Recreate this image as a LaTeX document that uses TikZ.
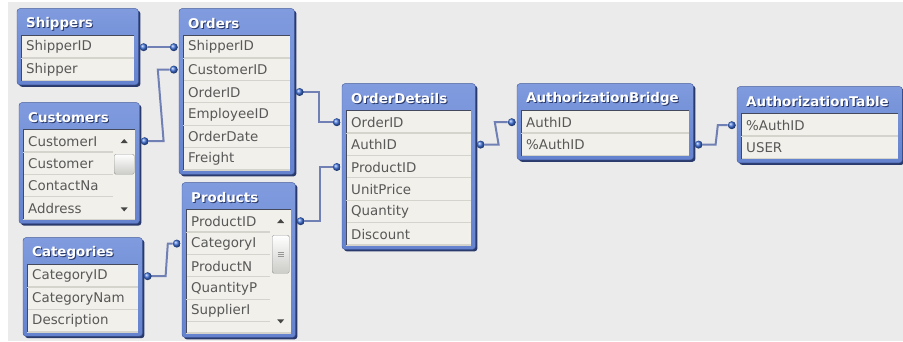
\documentclass[tikz,border=0pt]{standalone}
\usepackage{fontspec}
\setmainfont{DejaVu Sans}
\usepackage{tikz}
\usetikzlibrary{shapes,arrows,positioning,fit,backgrounds,shadows}
\definecolor{canvas}{RGB}{235,235,235}
\definecolor{frameblue}{RGB}{100,130,206}
\definecolor{framehi}{RGB}{128,155,222}
\definecolor{frameline}{RGB}{66,90,156}
\definecolor{frameshadow}{RGB}{42,58,108}
\definecolor{rowfill}{RGB}{241,240,234}
\definecolor{rowline}{RGB}{212,211,204}
\definecolor{panelline}{RGB}{68,74,92}
\definecolor{fieldtext}{RGB}{88,88,88}
\definecolor{linkblue}{RGB}{112,128,180}
\definecolor{dotblue}{RGB}{62,112,218}
\definecolor{thumbgray}{RGB}{204,204,200}
\definecolor{thumbline}{RGB}{150,150,150}
\definecolor{arrowgray}{RGB}{70,70,70}

% white title with a dark drop behind it
\newcommand{\embossed}[1]{\rlap{\kern1pt\raisebox{-1pt}{\color{frameshadow}#1}}#1}

\tikzset{
  field/.style={rectangle, text width=#1, inner xsep=5pt, inner ysep=0pt, minimum height=22pt,
    fill=rowfill, text=fieldtext, font=\fontsize{13.4}{16}\selectfont,
    path picture={
      \draw[rowline, line width=1.6pt] (path picture bounding box.south west) -- (path picture bounding box.south east);
      \draw[panelline, line width=2pt] (path picture bounding box.south west) -- (path picture bounding box.north west);}},
  ttl/.style={rectangle, text width=#1, inner xsep=5pt, inner ysep=0pt, minimum height=23pt,
    text=white, font=\fontsize{13.4}{16}\selectfont\bfseries,
    path picture={
      \draw[panelline, line width=2.4pt] (path picture bounding box.south west) -- (path picture bounding box.south east);}}
}
\tikzstyle{tbl} = [rectangle, rounded corners=3pt, draw=frameline, top color=framehi, bottom color=frameblue, inner sep=4pt, drop shadow={shadow xshift=2pt, shadow yshift=-2pt, fill=frameshadow, opacity=1}]
\tikzstyle{dot} = [circle, inner sep=0pt, minimum size=8pt, ball color=dotblue]
\tikzstyle{link} = [draw=linkblue, line width=2pt]
\tikzstyle{scrollcol} = [rectangle, inner sep=0pt, fill=rowfill]
\tikzstyle{thumb} = [rectangle, rounded corners=1.5pt, inner sep=0pt, draw=thumbline, top color=white, bottom color=thumbgray]

\begin{document}
\begin{tikzpicture}[x=1pt, y=-1pt]

\begin{scope}[on background layer]
\fill[white] (0,0) rectangle (903,341);
\fill[canvas] (8,2) rectangle (903,341);
\end{scope}
\useasboundingbox (0,0) rectangle (903,341);

% tables =============================

% Shippers
\node[field=103pt, anchor=north west] (shipID) at (21,36) {ShipperID};
\node[field=103pt, below=0pt of shipID] (shipName) {Shipper};
\node[ttl=103pt, above=0pt of shipID] (shipT) {\embossed{Shippers}};

% Orders
\node[field=97pt, anchor=north west] (ordShip) at (183,36) {ShipperID};
\node[field=97pt, below=0pt of ordShip] (ordCust) {CustomerID};
\node[field=97pt, below=0pt of ordCust] (ordOrder) {OrderID};
\node[field=97pt, below=0pt of ordOrder] (ordEmp) {EmployeeID};
\node[field=97pt, below=0pt of ordEmp] (ordDate) {OrderDate};
\node[field=97pt, below=0pt of ordDate] (ordFreight) {Freight};
\node[ttl=97pt, above=0pt of ordShip] (ordT) {\embossed{Orders}};

% Customers
\node[field=102pt, anchor=north west] (custID) at (23,130) {CustomerI};
\node[field=102pt, below=0pt of custID] (custName) {Customer};
\node[field=102pt, below=0pt of custName] (custContact) {ContactNa};
\node[field=102pt, below=0pt of custContact] (custAddr) {Address};
\node[ttl=102pt, above=0pt of custID] (custT) {\embossed{Customers}};
\node[scrollcol, anchor=north east, minimum width=22pt, minimum height=88pt] (custScroll) at (custID.north east) {};
\node[thumb, minimum width=20pt, minimum height=20pt, below=24pt of custScroll.north] (custThumb) {};
\fill[arrowgray] ([yshift=-9pt]custScroll.north) -- ++(3.5,4) -- ++(-7,0) -- cycle;
\fill[arrowgray] ([yshift=7pt]custScroll.south) -- ++(3.5,-4) -- ++(-7,0) -- cycle;

% Categories
\node[field=101pt, anchor=north west] (catID) at (27,265) {CategoryID};
\node[field=101pt, below=0pt of catID] (catName) {CategoryNam};
\node[field=101pt, below=0pt of catName] (catDesc) {Description};
\node[ttl=101pt, above=0pt of catID] (catT) {\embossed{Categories}};

% Products
\node[field=95pt, anchor=north west] (prodID) at (186,210) {ProductID};
\node[field=95pt, below=0pt of prodID] (prodCat) {CategoryI};
\node[field=95pt, below=0pt of prodCat] (prodName) {ProductN};
\node[field=95pt, below=0pt of prodName] (prodQty) {QuantityP};
\node[field=95pt, below=0pt of prodQty] (prodSup) {SupplierI};
\node[field=95pt, minimum height=11pt, below=0pt of prodSup] (prodMore) {};
\node[ttl=95pt, above=0pt of prodID] (prodT) {\embossed{Products}};
\node[scrollcol, anchor=north east, minimum width=21pt, minimum height=121pt] (prodScroll) at (prodID.north east) {};
\node[thumb, minimum width=17pt, minimum height=38pt, below=25pt of prodScroll.north] (prodThumb) {};
\foreach \dy in {-2,0,2}
  \draw[thumbline, line width=0.8pt] ([xshift=-3pt, yshift=\dy pt]prodThumb.center) -- ++(6,0);
\fill[arrowgray] ([yshift=-9pt]prodScroll.north) -- ++(3.5,4) -- ++(-7,0) -- cycle;
\fill[arrowgray] ([yshift=8pt]prodScroll.south) -- ++(3.5,-4) -- ++(-7,0) -- cycle;

% OrderDetails
\node[field=115pt, anchor=north west] (odOrder) at (346,111) {OrderID};
\node[field=115pt, below=0pt of odOrder] (odAuth) {AuthID};
\node[field=115pt, below=0pt of odAuth] (odProd) {ProductID};
\node[field=115pt, below=0pt of odProd] (odPrice) {UnitPrice};
\node[field=115pt, below=0pt of odPrice] (odQty) {Quantity};
\node[field=115pt, below=0pt of odQty] (odDisc) {Discount};
\node[ttl=115pt, above=0pt of odOrder] (odT) {\embossed{OrderDetails}};

% AuthorizationBridge
\node[field=158pt, anchor=north west] (abAuth) at (521,111) {AuthID};
\node[field=158pt, below=0pt of abAuth] (abPct) {\%AuthID};
\node[ttl=158pt, above=0pt of abAuth] (abT) {\embossed{AuthorizationBridge}};

% AuthorizationTable
\node[field=147pt, anchor=north west] (atPct) at (741,114) {\%AuthID};
\node[field=147pt, below=0pt of atPct] (atUser) {USER};
\node[ttl=147pt, above=0pt of atPct] (atT) {\embossed{AuthorizationTable}};

% frames behind the fields
\begin{scope}[on background layer]
\node[tbl, fit=(shipT)(shipName)] (shippers) {};
\node[tbl, fit=(ordT)(ordFreight)] (orders) {};
\node[tbl, fit=(custT)(custAddr)] (customers) {};
\node[tbl, fit=(catT)(catDesc)] (categories) {};
\node[tbl, fit=(prodT)(prodMore)] (products) {};
\node[tbl, fit=(odT)(odDisc)] (orderdetails) {};
\node[tbl, fit=(abT)(abPct)] (authbridge) {};
\node[tbl, fit=(atT)(atUser)] (authtable) {};
\end{scope}

% key dots =============================
\node[dot, right=5pt of shipID] (shipR) {};
\node[dot, left=5pt of ordShip] (ordShipL) {};
\node[dot, right=5pt of custID] (custR) {};
\node[dot, left=5pt of ordCust] (ordCustL) {};
\node[dot, right=5pt of catID] (catR) {};
\node[dot, left=5pt of prodCat] (prodCatL) {};
\node[dot, right=5pt of ordOrder] (ordOrderR) {};
\node[dot, left=5pt of odOrder] (odOrderL) {};
\node[dot, right=5pt of prodID] (prodIDR) {};
\node[dot, left=5pt of odProd] (odProdL) {};
\node[dot, right=5pt of odAuth] (odAuthR) {};
\node[dot, left=5pt of abAuth] (abAuthL) {};
\node[dot, right=5pt of abPct] (abPctR) {};
\node[dot, left=5pt of atPct] (atPctL) {};

%links
\begin{scope}[on background layer]
\path[link] (shipR) -- (ordShipL);
\path[link] (custR.center) -- ++(19,0) -- ([xshift=-16pt]ordCustL.center) -- (ordCustL);
\path[link] (catR.center) -- ++(18,0) -- ([xshift=-9pt]prodCatL.center) -- (prodCatL);
\path[link] (ordOrderR.center) -- ++(19,0) |- (odOrderL);
\path[link] (prodIDR.center) -- ++(19,0) |- (odProdL);
\path[link] (odAuthR.center) -- ++(18,0) -- ([xshift=-17pt]abAuthL.center) -- (abAuthL);
\path[link] (abPctR.center) -- ++(17,0) -- ([xshift=-14pt]atPctL.center) -- (atPctL);
\end{scope}

\end{tikzpicture}
\end{document}
